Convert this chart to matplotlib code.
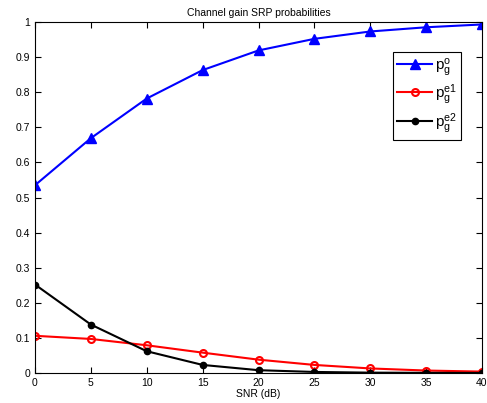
import matplotlib
matplotlib.use("Agg")
import matplotlib.pyplot as plt

snr = [0, 5, 10, 15, 20, 25, 30, 35, 40]
p_o = [0.535, 0.669, 0.782, 0.863, 0.919, 0.952, 0.973, 0.985, 0.993]
p_e1 = [0.106, 0.097, 0.079, 0.058, 0.038, 0.023, 0.013, 0.007, 0.004]
p_e2 = [0.252, 0.138, 0.062, 0.023, 0.008, 0.003, 0.001, 0.0005, 0.0002]

plt.rcParams['font.family'] = ['Liberation Sans', 'DejaVu Sans']
plt.rcParams['mathtext.fontset'] = 'custom'
plt.rcParams['mathtext.rm'] = 'Liberation Sans'
plt.rcParams['mathtext.it'] = 'Liberation Sans'

fig = plt.figure(figsize=(4.87, 4.03), dpi=100)
ax = fig.add_axes([35/487, 30/403, 447/487, 351/403])

ax.plot(snr, p_o, color='blue', lw=1.5, marker='^', ms=6.5, mfc='blue', label=r'$\mathrm{p_g^o}$')
ax.plot(snr, p_e1, color='red', lw=1.5, marker='o', ms=5, mfc='none', mew=1.5, label=r'$\mathrm{p_g^{e1}}$')
ax.plot(snr, p_e2, color='black', lw=1.5, marker='.', ms=9, label=r'$\mathrm{p_g^{e2}}$')

ax.set_xlim(0, 40)
ax.set_ylim(0, 1)
ax.set_xticks(snr)
ax.set_yticks([0, 0.1, 0.2, 0.3, 0.4, 0.5, 0.6, 0.7, 0.8, 0.9, 1])
ax.set_yticklabels(['0', '0.1', '0.2', '0.3', '0.4', '0.5', '0.6', '0.7', '0.8', '0.9', '1'])
ax.tick_params(direction='in', top=True, right=True, labelsize=7.5, length=4, width=0.8)
for s in ax.spines.values():
    s.set_linewidth(0.8)
ax.set_xlabel('SNR (dB)', fontsize=7.5, labelpad=1)
ax.set_title('Channel gain SRP probabilities', fontsize=7.5, pad=4)

leg = ax.legend(loc='upper right', bbox_to_anchor=(0.953, 0.915), borderaxespad=0,
                fontsize=11, fancybox=False, edgecolor='black', framealpha=1,
                handlelength=2.3, borderpad=0.25, labelspacing=0.3, handletextpad=0.2)
leg.get_frame().set_linewidth(0.8)

fig.savefig('out.png', dpi=100)
